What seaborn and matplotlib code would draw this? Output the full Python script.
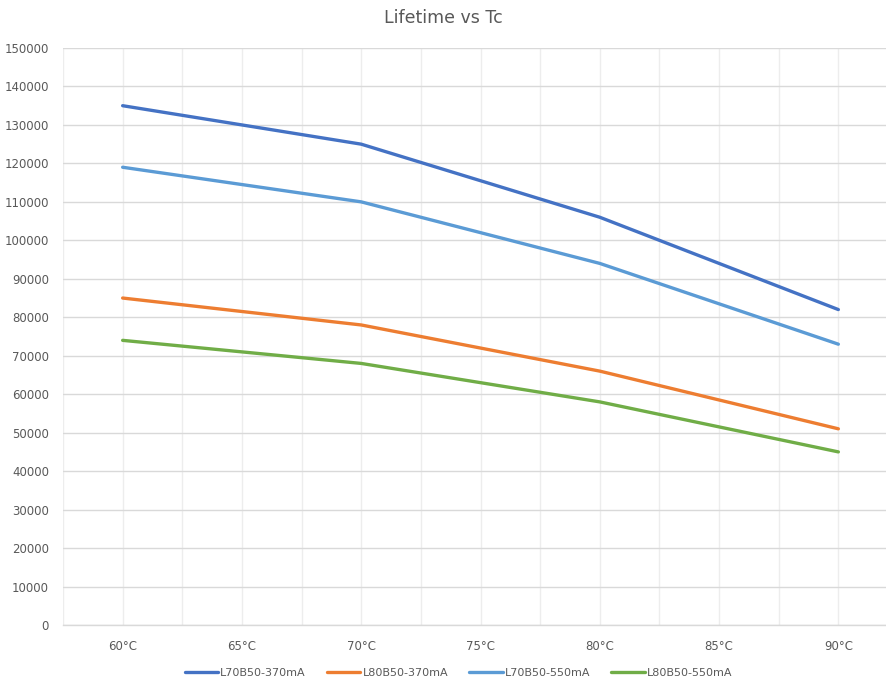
import matplotlib
matplotlib.use("Agg")
import matplotlib.pyplot as plt
from matplotlib.ticker import MultipleLocator, FuncFormatter
import seaborn as sns
import pandas as pd

# Case temperature (°C) at which lifetime was evaluated
tc = [60, 70, 80, 90]

# Lifetime (hours) per condition
l70b50_370 = [135000, 125000, 106000, 82000]
l80b50_370 = [85000, 78000, 66000, 51000]
l70b50_550 = [119000, 110000, 94000, 73000]
l80b50_550 = [74000, 68000, 58000, 45000]

series_names = ["L70B50-370mA", "L80B50-370mA", "L70B50-550mA", "L80B50-550mA"]
series_values = [l70b50_370, l80b50_370, l70b50_550, l80b50_550]
colors = ["#4472C4", "#ED7D31", "#5B9BD5", "#70AD47"]

rows = []
for name, vals in zip(series_names, series_values):
    for t, v in zip(tc, vals):
        rows.append({"Tc": t, "Lifetime": v, "Series": name})
df = pd.DataFrame(rows)

sns.set_theme(style="white")
plt.rcParams["font.family"] = ["DejaVu Sans"]

fig = plt.figure(figsize=(8.87, 6.79), dpi=100)
ax = fig.add_axes([63 / 887, 54 / 679, 835 / 887, 577 / 679])

sns.lineplot(data=df, x="Tc", y="Lifetime", hue="Series", hue_order=series_names,
             palette=colors, linewidth=2.4, ax=ax, legend=False, zorder=3)

ax.set_xlim(57.5, 92.5)
ax.set_ylim(0, 150000)
ax.xaxis.set_major_locator(MultipleLocator(5))
ax.xaxis.set_minor_locator(MultipleLocator(2.5))
ax.yaxis.set_major_locator(MultipleLocator(10000))
ax.xaxis.set_major_formatter(FuncFormatter(lambda v, p: f"{int(v)}°C"))
ax.yaxis.set_major_formatter(FuncFormatter(lambda v, p: f"{int(v)}"))

ax.grid(axis="y", which="major", color="#D9D9D9", linewidth=1.0, zorder=0)
ax.grid(axis="x", which="both", color="#EDEDED", linewidth=1.0, zorder=0)

for side in ["left", "right", "top"]:
    ax.spines[side].set_visible(False)
ax.spines["bottom"].set_color("#D9D9D9")
ax.spines["bottom"].set_linewidth(1.0)

ax.tick_params(axis="both", which="both", length=0, labelsize=8.5, labelcolor="#595959")
ax.tick_params(axis="y", pad=10)
ax.tick_params(axis="x", pad=11)
ax.set_xlabel("")
ax.set_ylabel("")

fig.text(0.5, 1 - 18 / 679, "Lifetime vs Tc", ha="center", va="center",
         fontsize=12.5, color="#595959")

handles = [plt.Line2D([0], [0], color=c, linewidth=2.4) for c in colors]
fig.legend(handles, series_names, loc="center", bbox_to_anchor=(0.517, 1 - 673 / 679),
           ncol=4, frameon=False, fontsize=8, labelcolor="#595959",
           handlelength=3.0, handletextpad=0.2, columnspacing=1.9)

fig.savefig("out.png", dpi=100)
